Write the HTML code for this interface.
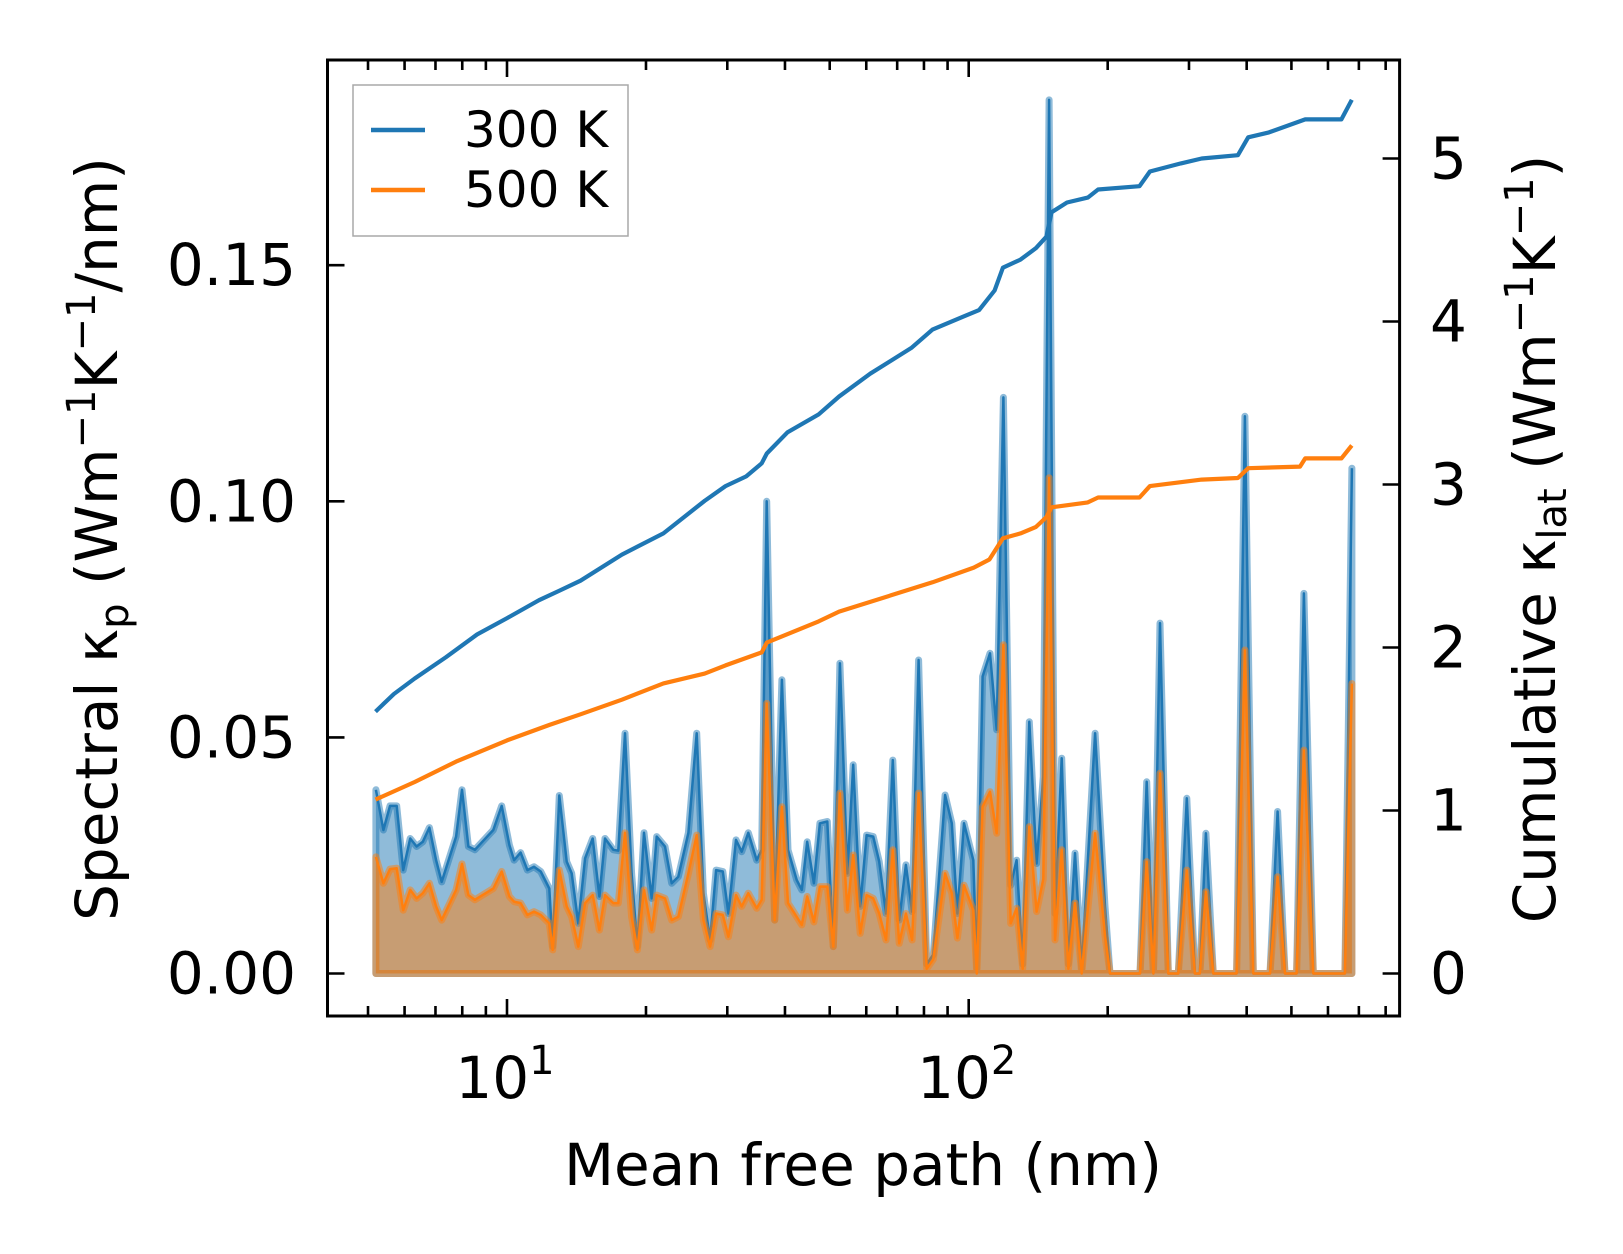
<!DOCTYPE html>
<html><head><meta charset="utf-8"><style>
html,body{margin:0;padding:0;background:#fff;}
svg{display:block;font-family:"DejaVu Sans","Liberation Sans",sans-serif;}
</style></head><body>
<svg id="chart" width="1623" height="1254" viewBox="0 0 1623 1254" xmlns="http://www.w3.org/2000/svg">
<rect width="1623" height="1254" fill="#fff"/>
<g id="marks"></g>
<g id="axes"></g>
</svg>
<script>
// ---- data ----
const mfp = [5.20,5.40,5.58,5.77,5.96,6.17,6.37,6.57,6.79,7.02,7.22,7.76,7.99,8.25,8.52,9.34,9.74,10.12,10.36,10.70,11.07,11.44,11.83,12.35,12.56,12.98,13.47,13.81,14.27,14.76,15.33,15.85,16.30,16.99,17.42,18.01,18.62,19.16,19.80,20.58,21.10,21.99,22.74,23.50,24.71,25.76,26.63,27.53,28.37,29.33,30.17,31.33,32.23,33.31,34.74,35.62,36.52,38.0,39.4,40.6,42.4,43.5,44.7,46.2,47.6,49.4,50.9,52.6,54.6,
56.2,58.2,60.1,62.1,64.0,66.2,68.5,70.7,73.1,75.4,77.9,81.1,83.8,88.9,91.9,94.5,97.7,102.3,104.1,107.2,111.2,115.0,118.9,123.3,127.0,130.9,135.3,140.3,145.1,149.3,153.8,159.0,164.4,169.9,175.7,187.8,197.3,202.3,235,243.0,251.2,259.6,270.6,284.4,296.7,309.0,316.7,326.4,338.7,380.4,396.4,413.4,449.4,466.8,484.2,513,532.2,557.8,653,676];
const spec300 = [.0389,.0304,.0355,.0355,.0219,.0286,.0269,.0279,.0309,.0240,.0194,.0290,.0389,.0269,.0262,.0304,.0355,.0272,.0240,.0256,.0219,.0226,.0216,.0180,.0057,.0377,.0237,.0212,.0106,.0244,.0286,.0163,.0286,.0262,.0260,.0509,.0212,.0057,.0298,.0159,.0290,.0269,.0191,.0205,.0298,.0509,.0170,.0071,.0219,.0216,.0127,.0283,.0258,.0298,.0240,.0262,.100,.0113,.0622,.0262,.0198,.0177,.0279,.0191,.0318,.0322,.0057,.0657,.0212,
.0442,.0142,.0293,.0290,.0237,.0127,.0452,.0113,.0230,.0131,.0664,.002,.004,.0378,.0318,.0127,.0318,.0240,.001,.0629,.0678,.0516,.122,.0187,.0240,.002,.0533,.0233,.0417,.185,.0127,.0456,.002,.0255,.001,.0509,.0142,0,0,.0406,0,.0742,0,0,.0371,0,0,.0297,0,0,.118,0,0,.0343,0,0,.0805,0,0,.107];
const spec500 = [.0247,.0191,.0221,.0223,.0134,.0177,.0159,.0170,.0191,.0142,.0113,.0177,.0232,.0166,.0156,.0180,.0216,.0163,.0152,.0149,.0124,.0131,.0124,.0106,.005,.0219,.0142,.0120,.0057,.0149,.0166,.0092,.0166,.0149,.0149,.0298,.012,.005,.0177,.0092,.0166,.0159,.0113,.012,.0212,.0293,.0113,.0057,.0127,.0124,.0078,.0166,.0142,.0170,.0138,.0156,.0572,.0113,.0353,.0149,.012,.0103,.0163,.0109,.0184,.0184,.0057,.0382,.0134,
.0251,.0085,.0166,.0159,.0127,.0071,.0262,.0064,.0127,.0071,.0382,.001,.003,.0212,.0170,.0075,.0187,.0134,0,.0353,.0385,.0297,.0696,.0106,.0138,.001,.0311,.0131,.020,.105,.0071,.0262,.001,.0149,0,.0297,.008,0,0,.0237,0,.0424,0,0,.0219,0,0,.0173,0,0,.0685,0,0,.0205,0,0,.0473,0,0,.0614];
const cumMfp300 = [5.19,5.69,6.31,7.37,8.61,10,11.73,13.01,14.43,17.74,21.81,24.18,26.81,29.73,32.96,35.61,36.54,40.51,47.3,52.4,61.2,67.9,75.3,83.5,97.4,105.3,113.8,118.6,129.5,139.9,147.3,151.1,163.3,181.1,190.7,234.4,246.9,288.2,319.6,382.8,403.1,446.9,535.5,641.7,675.6];
const cum300 = [1.607,1.715,1.81,1.94,2.08,2.18,2.29,2.35,2.41,2.57,2.70,2.80,2.90,2.99,3.05,3.13,3.19,3.32,3.43,3.54,3.68,3.76,3.84,3.95,4.03,4.07,4.19,4.33,4.38,4.45,4.52,4.67,4.73,4.76,4.81,4.83,4.92,4.97,5.0,5.02,5.13,5.16,5.24,5.24,5.36];
const cumMfp500 = [5.19,6.31,7.76,10,12.36,14.43,17.74,21.81,26.81,29.73,35.61,36.54,47.3,52.4,67.9,75.3,83.5,102.6,110.9,118.6,129.5,139.9,147.3,151.1,181.1,190.7,234.4,246.9,319.6,382.8,403.1,521.9,535.5,641.7,675.6];
const cum500 = [1.067,1.175,1.30,1.43,1.525,1.59,1.68,1.78,1.84,1.89,1.97,2.03,2.16,2.22,2.32,2.36,2.40,2.49,2.54,2.67,2.70,2.74,2.80,2.86,2.89,2.92,2.92,2.99,3.03,3.04,3.10,3.11,3.16,3.16,3.24];
const leftTicks = [0, 0.05, 0.10, 0.15];
const leftTickLabels = ["0.00","0.05","0.10","0.15"];
const rightTicks = [0,1,2,3,4,5];
const xMajor = [10,100];
const xMinor = [5,6,7,8,9,20,30,40,50,60,70,80,90,200,300,400,500,600,700,800];

// ---- geometry ----
const L=327.5, R=1399.6, T=60, B=1016;
const xs = v => 507 + (Math.log10(v)-1)*461.7;
const yL = v => 973.5 - v*4722;
const yR = v => 973.5 - v*163;
const NS="http://www.w3.org/2000/svg";
function mk(tag, attrs, parent){const e=document.createElementNS(NS,tag);for(const k in attrs)e.setAttribute(k,attrs[k]);parent.appendChild(e);return e;}
const marks=document.getElementById('marks'), axes=document.getElementById('axes');

function spectral(vals, color, name){
  const pts = mfp.map((m,i)=>[xs(m), yL(vals[i])]);
  const x0=pts[0][0], x1=pts[pts.length-1][0], y0=yL(0);
  let d = `M${x0},${y0} ` + pts.map(p=>`L${p[0].toFixed(1)},${p[1].toFixed(1)}`).join(' ') + ` L${x1},${y0} Z`;
  const f = mk('path',{d:d,fill:color,'fill-opacity':0.5,stroke:color,'stroke-opacity':0.5,'stroke-width':7,'stroke-linejoin':'round'},marks);
  
  
  const ln = mk('polyline',{points:pts.map(p=>p[0].toFixed(1)+','+p[1].toFixed(1)).join(' '),fill:'none',stroke:color,'stroke-width':2.5,'stroke-linejoin':'round'},marks);
  
  
}
spectral(spec300,'#1f77b4','spectral-300k');
spectral(spec500,'#ff7f0e','spectral-500k');

function cumLine(xv, yv, color, name){
  const p = mk('polyline',{points:xv.map((m,i)=>xs(m).toFixed(1)+','+yR(yv[i]).toFixed(1)).join(' '),fill:'none',stroke:color,'stroke-width':4.2,'stroke-linejoin':'round'},marks);
  
  
}
cumLine(cumMfp300, cum300, '#1f77b4', 'cumulative-300k-line');
cumLine(cumMfp500, cum500, '#ff7f0e', 'cumulative-500k-line');

// ---- axes ----
const frame = mk('rect',{x:L,y:T,width:R-L,height:B-T,fill:'none',stroke:'#000','stroke-width':3},axes);


function tick(x1,y1,x2,y2){mk('line',{x1:x1,y1:y1,x2:x2,y2:y2,stroke:'#000','stroke-width':2.6},axes);}
const FS=58;
leftTicks.forEach((v,i)=>{
  const y=yL(v); tick(L,y,L+17,y);
  const t=mk('text',{x:296,y:y+20,'text-anchor':'end','font-size':FS},axes); t.textContent=leftTickLabels[i];
  
  
});
rightTicks.forEach(v=>{
  const y=yR(v); tick(R,y,R-17,y);
  const t=mk('text',{x:1430,y:y+20,'text-anchor':'start','font-size':FS},axes); t.textContent=String(v);
  
  
});
xMajor.forEach(v=>{
  const x=xs(v); tick(x,B,x,B-17); tick(x,T,x,T+17);
  const t=mk('text',{x:x-2,y:1098,'text-anchor':'middle','font-size':FS},axes);
  
  
  const a=mk('tspan',{},t); a.textContent='10';
  const b=mk('tspan',{dy:-24,'font-size':40},t); b.textContent=String(Math.round(Math.log10(v)));
});
xMinor.forEach(v=>{const x=xs(v); tick(x,B,x,B-10); tick(x,T,x,T+10);});

// axis titles
const xl=mk('text',{x:863,y:1185,'text-anchor':'middle','font-size':FS},axes); xl.textContent='Mean free path (nm)';



const yl=mk('text',{x:0,y:0,'text-anchor':'middle','font-size':FS,transform:'translate(117,539) rotate(-90)'},axes);


yl.innerHTML='Spectral κ<tspan font-size="40" dy="11">p</tspan><tspan dy="-11"> (Wm</tspan><tspan font-size="40" dy="-22">−1</tspan><tspan dy="22">K</tspan><tspan font-size="40" dy="-22">−1</tspan><tspan dy="22">/nm)</tspan>';

const yr=mk('text',{x:0,y:0,'text-anchor':'middle','font-size':FS,transform:'translate(1555,539) rotate(-90)'},axes);


yr.innerHTML='Cumulative κ<tspan font-size="40" dy="11">lat</tspan><tspan dy="-11"> (Wm</tspan><tspan font-size="40" dy="-22">−1</tspan><tspan dy="22">K</tspan><tspan font-size="40" dy="-22">−1</tspan><tspan dy="22">)</tspan>';

// legend
const lg=mk('g',{},axes);


mk('rect',{x:353,y:85,width:275,height:151,fill:'#fff','fill-opacity':0.8,stroke:'#a8a8a8','stroke-width':1.5},lg);
[['300 K','#1f77b4',130],['500 K','#ff7f0e',190]].forEach(e=>{
  const g=mk('g',{},lg);
  
  
  mk('line',{x1:371,y1:e[2],x2:425,y2:e[2],stroke:e[1],'stroke-width':4.5},g);
  const t=mk('text',{x:464,y:e[2]+17,'font-size':50},g); t.textContent=e[0];
});
</script>
</body></html>
